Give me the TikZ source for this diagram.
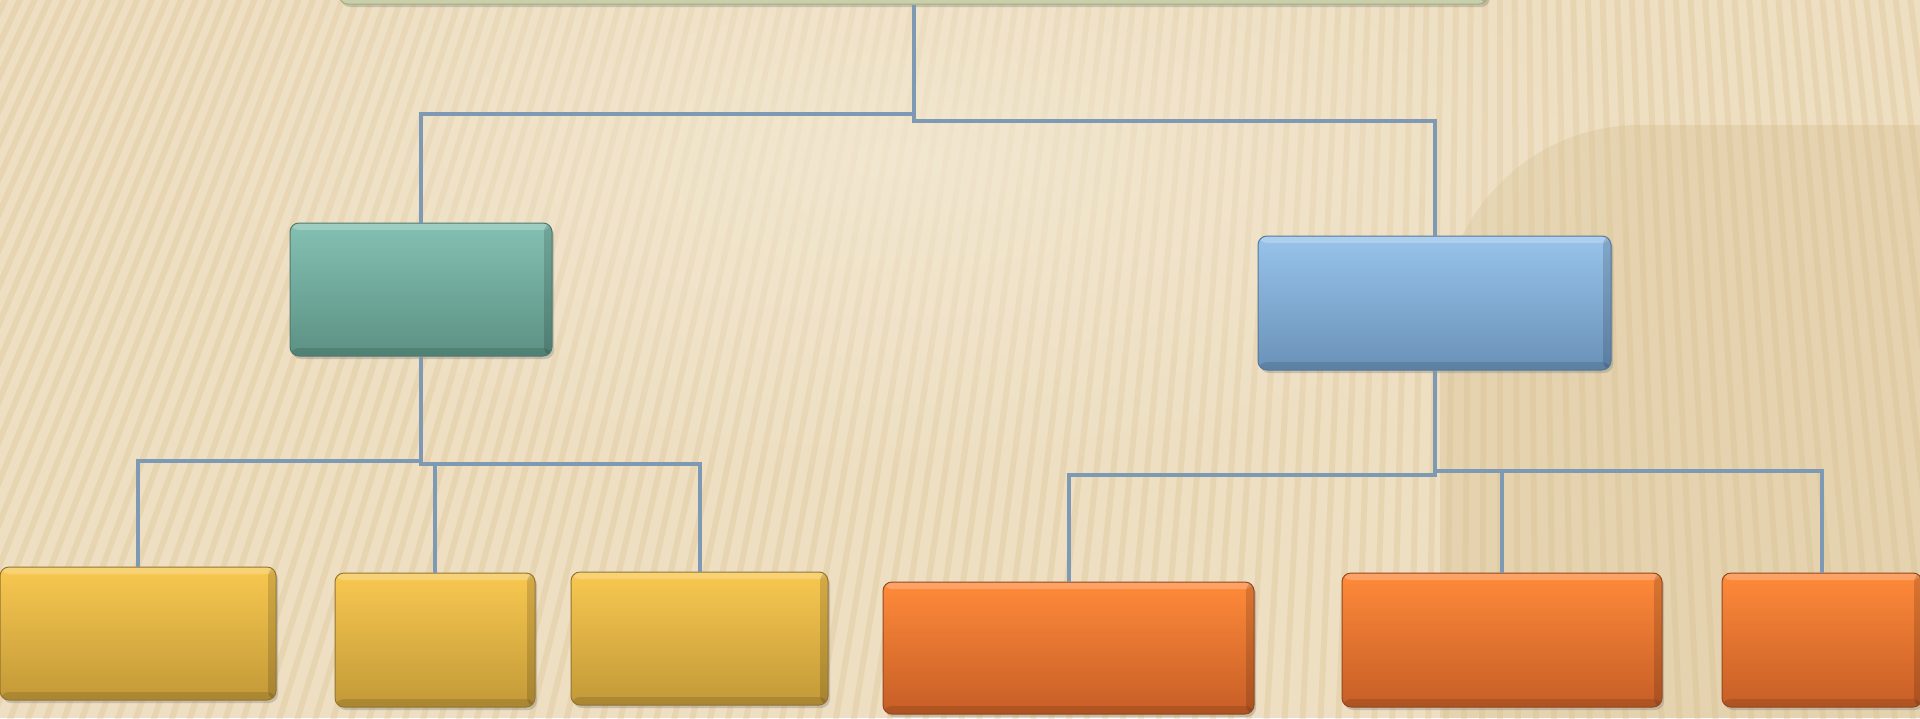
\documentclass[tikz,border=0pt]{standalone}
\usetikzlibrary{positioning,calc,shadows,fadings}
\definecolor{bgtan}{HTML}{EEDFC2}
\definecolor{stripetan}{HTML}{D6BB88}
\definecolor{darktan}{HTML}{D9C294}
\definecolor{linkblue}{HTML}{7D99B4}
\definecolor{tealA}{HTML}{84C1B2}\definecolor{tealB}{HTML}{5C9184}\definecolor{tealC}{HTML}{4D7A70}
\definecolor{blueA}{HTML}{98C3EA}\definecolor{blueB}{HTML}{6A92B9}\definecolor{blueC}{HTML}{557799}
\definecolor{goldA}{HTML}{F8C850}\definecolor{goldB}{HTML}{C29938}\definecolor{goldC}{HTML}{957530}
\definecolor{orngA}{HTML}{FF8A3A}\definecolor{orngB}{HTML}{C65E26}\definecolor{orngC}{HTML}{944820}
\definecolor{rootfill}{HTML}{E5EBC3}\definecolor{rootdraw}{HTML}{A3B07A}
\tikzfading[name=glowfade, inner color=transparent!0, outer color=transparent!100]
\tikzset{
  orgbox/.style={draw, rounded corners=9pt, line width=1pt, inner sep=0pt,
    drop shadow={opacity=0.35, shadow xshift=2pt, shadow yshift=-3pt},
    path picture={
      \fill[white, opacity=.22] (path picture bounding box.north west)
        rectangle ([yshift=-7pt]path picture bounding box.north east);
      \fill[black, opacity=.14] ([xshift=-8pt]path picture bounding box.north east)
        rectangle (path picture bounding box.south east);
      \fill[black, opacity=.12] (path picture bounding box.south west)
        rectangle ([yshift=8pt]path picture bounding box.south east);
    }},
  tonebox/.style={orgbox, top color=#1A, bottom color=#1B, draw=#1C},
  link/.style={draw=linkblue, line width=4pt},
}

\begin{document}
\begin{tikzpicture}[x=1pt, y=-1pt]

  % background
  \useasboundingbox (0,0) rectangle (1920,718);
  \fill[bgtan] (0,0) rectangle (1920,718);
  \begin{scope}
    \clip (0,0) rectangle (1920,718);
    \fill[darktan, opacity=.4] (1920,125) -- (1640,125)
      to[out=180, in=90] (1440,330) -- (1440,718) -- (1920,718) -- cycle;
    \foreach \i in {-125,...,34}
      \draw[stripetan, opacity=.28, line width=6pt] (1500,-3200) -- ({1500+\i*18},730);
    \fill[bgtan!70!white, opacity=.75, path fading=glowfade] (900,160) ellipse (760pt and 330pt);
  \end{scope}

  % boxes
  \node[orgbox, fill=rootfill, draw=rootdraw, minimum width=1149pt, minimum height=60pt] (root) at (913.5,-26) {};

  \node[tonebox=teal, minimum width=262pt, minimum height=133pt] (mgrA) at (421,289.5) {};
  \node[tonebox=blue, minimum width=353pt, minimum height=134pt] (mgrB) at (1434.5,303) {};

  \node[tonebox=gold, minimum width=276pt, minimum height=133pt] (subA1) at (138,633.5) {};
  \node[tonebox=gold, minimum width=200pt, minimum height=134pt] (subA2) at (435,640) {};
  \node[tonebox=gold, minimum width=257pt, minimum height=133pt] (subA3) at (699.5,638.5) {};

  \node[tonebox=orng, minimum width=371pt, minimum height=132pt] (subB1) at (1068.5,648) {};
  \node[tonebox=orng, minimum width=320pt, minimum height=134pt] (subB2) at (1502,640) {};
  \node[tonebox=orng, minimum width=200pt, minimum height=134pt] (subB3) at (1822,640) {};

  % connectors
  \draw[link] (root.south) -- ++(0,109) -| (mgrA.north);
  \draw[link] (root.south) -- ++(0,116) -| (mgrB.north);

  \draw[link] (mgrA.south) -- ++(0,104) -| (subA1.north);
  \draw[link] (mgrA.south) -- ++(0,107) -| (subA2.north);
  \draw[link] (mgrA.south) -- ++(0,107) -| (subA3.north);

  \draw[link] (mgrB.south) -- ++(0,104) -| (subB1.north);
  \draw[link] (mgrB.south) -- ++(0,100) -| (subB2.north);
  \draw[link] (mgrB.south) -- ++(0,100) -| (subB3.north);

\end{tikzpicture}
\end{document}
